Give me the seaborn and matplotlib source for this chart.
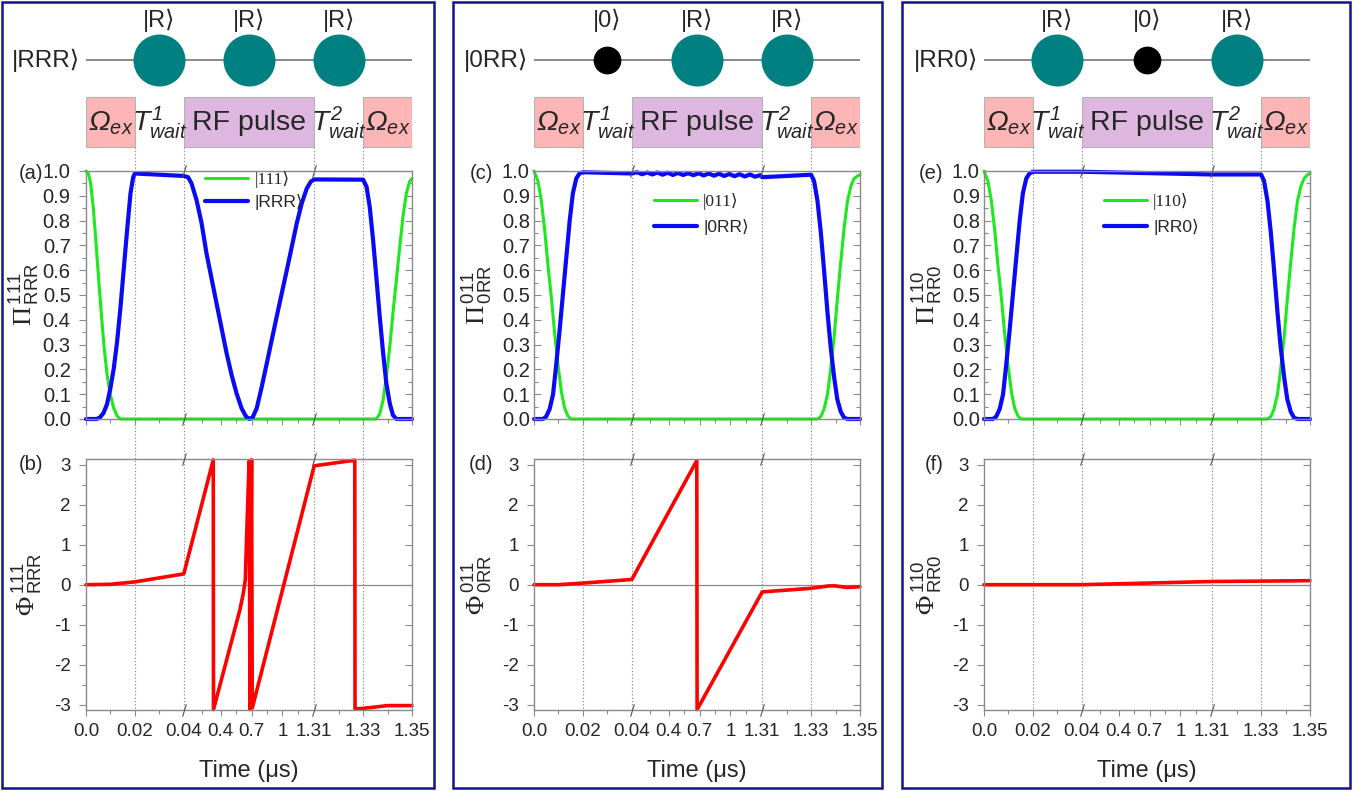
import numpy as np
import matplotlib
matplotlib.use("Agg")
import matplotlib.pyplot as plt
import matplotlib.transforms as mtrans
from matplotlib.patches import Rectangle
from matplotlib.ticker import FixedLocator, FixedFormatter, MultipleLocator, FuncFormatter
import seaborn as sns

# ---------------- axis definition (broken time axis, µs) ----------------
SEG_T = [0.0, 0.02, 0.04, 1.31, 1.33, 1.35]
SEG_FRAC = [0.0, 0.15, 0.30, 0.70, 0.85, 1.0]
X_TICKS = [0.0, 0.02, 0.04, 0.4, 0.7, 1.0, 1.31, 1.33, 1.35]
X_TICK_LABELS = ['0.0', '0.02', '0.04', '0.4', '0.7', '1', '1.31', '1.33', '1.35']
X_MINOR = [0.01, 0.03, 0.22, 0.55, 0.85, 1.155, 1.32, 1.34]
X_BREAKS = [0.04, 1.31]
GRID_T = [0.02, 0.04, 1.31, 1.33]

PULSE_LABELS = [r'$\mathbf{\Omega}_{ex}$', r'$T^{\mathbf{1}}_{wait}$', 'RF pulse',
                r'$T^{\mathbf{2}}_{wait}$', r'$\mathbf{\Omega}_{ex}$']
PULSE_START = [0.0, 0.02, 0.04, 1.31, 1.33]
PULSE_END = [0.02, 0.04, 1.31, 1.33, 1.35]
PULSE_FILL = ['#FDB5B5', None, '#DDB7DF', None, '#FDB5B5']

STATE_LABELS = ['|RRR⟩', '|0RR⟩', '|RR0⟩']
ATOM_LABELS = [['|R⟩', '|R⟩', '|R⟩'], ['|0⟩', '|R⟩', '|R⟩'], ['|R⟩', '|0⟩', '|R⟩']]
LEGEND_LABELS = [['|111⟩', '|RRR⟩'], ['|011⟩', '|0RR⟩'], ['|110⟩', '|RR0⟩']]
POP_YLABELS = [r'$\mathcal{\Pi}^{\,\mathrm{111}}_{\,\mathrm{RRR}}$',
               r'$\mathcal{\Pi}^{\,\mathrm{011}}_{\,\mathrm{0RR}}$',
               r'$\mathcal{\Pi}^{\,\mathrm{110}}_{\,\mathrm{RR0}}$']
PHASE_YLABELS = [r'$\mathcal{\Phi}^{\,\mathrm{111}}_{\,\mathrm{RRR}}$',
                 r'$\mathcal{\Phi}^{\,\mathrm{011}}_{\,\mathrm{0RR}}$',
                 r'$\mathcal{\Phi}^{\,\mathrm{110}}_{\,\mathrm{RR0}}$']
PANEL_LETTERS = [('(a)', '(b)'), ('(c)', '(d)'), ('(e)', '(f)')]

# ---------------- panel (a)/(b): |RRR> ----------------
A_T_GREEN = [0.0, 0.001, 0.0019, 0.003, 0.0041, 0.0052, 0.0063, 0.0074, 0.0086, 0.0099,
             0.0113, 0.0127, 0.0141, 0.02, 0.04, 1.31, 1.33, 1.3354, 1.3368, 1.3382,
             1.3395, 1.3409, 1.3422, 1.3436, 1.345, 1.3463, 1.3477, 1.349, 1.35]
A_GREEN = [1.0, 0.99, 0.95, 0.85, 0.71, 0.56, 0.42, 0.29, 0.18, 0.10,
           0.045, 0.012, 0.0, 0.0, 0.0, 0.0, 0.0, 0.0, 0.02, 0.077,
           0.17, 0.29, 0.426, 0.56, 0.695, 0.816, 0.91, 0.957, 0.97]
A_T_BLUE = [0.0, 0.0044, 0.0058, 0.0072, 0.0086, 0.0099, 0.0113, 0.0127, 0.0141, 0.0154,
            0.0168, 0.0182, 0.0193, 0.02, 0.04, 0.082, 0.115, 0.164, 0.213, 0.261,
            0.31, 0.359, 0.408, 0.457, 0.506, 0.554, 0.603, 0.646, 0.678, 0.711,
            0.75, 0.799, 0.848, 0.896, 0.945, 0.994, 1.043, 1.092, 1.14, 1.189,
            1.238, 1.277, 1.31, 1.33, 1.3314, 1.3327, 1.3341, 1.3354, 1.3368, 1.3382,
            1.3395, 1.3409, 1.3422, 1.3436, 1.35]
A_BLUE = [0.0, 0.0, 0.007, 0.025, 0.06, 0.12, 0.2, 0.31, 0.45, 0.6,
          0.76, 0.91, 0.975, 0.99, 0.98, 0.975, 0.95, 0.883, 0.79, 0.668,
          0.567, 0.466, 0.366, 0.265, 0.177, 0.103, 0.043, 0.01, 0.0, 0.007,
          0.043, 0.13, 0.224, 0.318, 0.413, 0.507, 0.6, 0.695, 0.789, 0.87,
          0.93, 0.957, 0.966, 0.965, 0.937, 0.856, 0.72, 0.574, 0.413, 0.265,
          0.144, 0.063, 0.016, 0.0, 0.0]
A_T_PHASE = [0.0, 0.01, 0.02, 0.04, 0.327, 0.329, 0.587, 0.62, 0.639, 0.652, 0.668,
             0.678, 0.684, 0.700, 0.707, 1.31, 1.3266, 1.3267, 1.33, 1.34, 1.35]
A_PHASE = [0.0, 0.01, 0.07, 0.27, 3.12, -3.12, -0.62, -0.21, 0.12, 1.2, 2.46,
           3.1, -3.12, 3.12, -3.08, 2.97, 3.11, -3.1, -3.09, -3.02, -3.02]

# ---------------- panel (c)/(d): |0RR> ----------------
C_T_GREEN = [0.0, 0.0016, 0.003, 0.0044, 0.0057, 0.0071, 0.0084, 0.0098, 0.0112, 0.0125,
             0.0139, 0.0152, 0.02, 0.04, 1.31, 1.33, 1.3326, 1.334, 1.3353, 1.3367,
             1.338, 1.3394, 1.3407, 1.3421, 1.3435, 1.3449, 1.3463, 1.3476, 1.349, 1.35]
C_GREEN = [1.0, 0.96, 0.88, 0.76, 0.62, 0.49, 0.35, 0.22, 0.11, 0.045,
           0.012, 0.0, 0.0, 0.0, 0.0, 0.0, 0.0, 0.01, 0.04, 0.1,
           0.2, 0.33, 0.48, 0.63, 0.77, 0.88, 0.94, 0.97, 0.98, 0.985]
C_T_BLUE = [0.0, 0.0037, 0.005, 0.0064, 0.0078, 0.0091, 0.0105, 0.0118, 0.0132, 0.0146,
            0.0159, 0.0173, 0.0186, 0.02, 0.04,
            0.09, 0.14, 0.19, 0.24, 0.29, 0.34, 0.39, 0.44, 0.49, 0.54, 0.59, 0.64, 0.69,
            0.74, 0.79, 0.84, 0.89, 0.94, 0.99, 1.04, 1.09, 1.14, 1.19, 1.24, 1.29, 1.31,
            1.33, 1.3312, 1.3326, 1.334, 1.3353, 1.3367, 1.338, 1.3394, 1.3407, 1.3421,
            1.3435, 1.3449, 1.35]
C_BLUE = [0.0, 0.0, 0.01, 0.04, 0.1, 0.22, 0.36, 0.5, 0.65, 0.8,
          0.91, 0.97, 0.99, 0.995, 0.99,
          0.995, 0.987, 0.994, 0.986, 0.994, 0.985, 0.993, 0.984, 0.992, 0.984, 0.991, 0.983,
          0.991, 0.982, 0.990, 0.981, 0.989, 0.980, 0.988, 0.979, 0.987, 0.978, 0.986, 0.977,
          0.983, 0.975,
          0.985, 0.96, 0.88, 0.75, 0.6, 0.43, 0.29, 0.17, 0.08, 0.03,
          0.005, 0.0, 0.0]
C_T_PHASE = [0.0, 0.01, 0.02, 0.04, 0.673, 0.676, 1.31, 1.33, 1.3373, 1.34, 1.3448, 1.35]
C_PHASE = [0.0, 0.0, 0.04, 0.13, 3.1, -3.12, -0.18, -0.09, -0.03, -0.03, -0.07, -0.05]

# ---------------- panel (e)/(f): |RR0> ----------------
E_T_GREEN = [0.0, 0.0016, 0.003, 0.0044, 0.0057, 0.0071, 0.0084, 0.0098, 0.0112, 0.0125,
             0.0139, 0.0152, 0.02, 0.04, 1.31, 1.33, 1.3326, 1.334, 1.3353, 1.3367,
             1.338, 1.3394, 1.3407, 1.3421, 1.3435, 1.3449, 1.3463, 1.3476, 1.349, 1.35]
E_GREEN = [1.0, 0.96, 0.88, 0.76, 0.62, 0.49, 0.35, 0.22, 0.11, 0.045,
           0.012, 0.0, 0.0, 0.0, 0.0, 0.0, 0.0, 0.01, 0.04, 0.1,
           0.2, 0.33, 0.48, 0.63, 0.77, 0.88, 0.94, 0.97, 0.985, 0.99]
E_T_BLUE = [0.0, 0.0037, 0.005, 0.0064, 0.0078, 0.0091, 0.0105, 0.0118, 0.0132, 0.0146,
            0.0159, 0.0173, 0.0186, 0.02, 0.04, 1.31, 1.33, 1.3312, 1.3326, 1.334,
            1.3353, 1.3367, 1.338, 1.3394, 1.3407, 1.3421, 1.3435, 1.3449, 1.35]
E_BLUE = [0.0, 0.0, 0.01, 0.04, 0.1, 0.22, 0.36, 0.5, 0.65, 0.8,
          0.91, 0.97, 0.99, 0.997, 0.997, 0.986, 0.986, 0.96, 0.88, 0.75,
          0.6, 0.43, 0.29, 0.17, 0.08, 0.03, 0.005, 0.0, 0.0]
E_T_PHASE = [0.0, 0.02, 0.04, 1.31, 1.33, 1.35]
E_PHASE = [0.0, 0.0, 0.0, 0.08, 0.09, 0.1]

POP_T_GREEN = [A_T_GREEN, C_T_GREEN, E_T_GREEN]
POP_GREEN = [A_GREEN, C_GREEN, E_GREEN]
POP_T_BLUE = [A_T_BLUE, C_T_BLUE, E_T_BLUE]
POP_BLUE = [A_BLUE, C_BLUE, E_BLUE]
PH_T = [A_T_PHASE, C_T_PHASE, E_T_PHASE]
PH_V = [A_PHASE, C_PHASE, E_PHASE]

# ---------------- style ----------------
GREEN, BLUE, RED, TEAL = '#1ee81e', '#0a0af5', '#ff0000', '#008080'
SPINE = '#8a8a8a'
NAVY = '#14148c'

sns.set_style('ticks')
plt.rcParams['font.family'] = ['Liberation Sans', 'DejaVu Sans']
plt.rcParams['mathtext.fontset'] = 'custom'
plt.rcParams['mathtext.rm'] = 'Liberation Sans'
plt.rcParams['mathtext.it'] = 'Liberation Sans:italic'
plt.rcParams['mathtext.bf'] = 'Liberation Sans:italic'
plt.rcParams['mathtext.cal'] = 'Liberation Serif'
plt.rcParams['mathtext.sf'] = 'Liberation Sans'
plt.rcParams['axes.unicode_minus'] = False

W, H = 1359, 791
AX_LEFT = [86, 534, 984]
AX_W = 326
POP_TOP, POP_BOT = 171, 419
PH_TOP, PH_BOT = 459, 710
BOX_TOP, BOX_BOT = 97, 147
ATOM_Y, ATOM_LABEL_Y = 60, 20
FRAMES = [(2, 434), (453, 882), (902, 1350)]
FRAME_TOP, FRAME_BOT = 2, 788
LEFT_DIR = ['out', 'in', 'in']
LETTER_X = [-0.13, -0.125, -0.125]
POP_YLAB_X = [-0.135, -0.119, -0.119]
PH_YLAB_X = [-0.125, -0.119, -0.119]
LEG_ANCHOR = [(0.365, 0.998), (0.367, 0.91), (0.367, 0.91)]
LEG_SPACING = [0.3, 0.5, 0.5]
POP_YTICK_SIZE = 14.5
PH_YTICK_SIZE = 13.5


def fwd(t):
    return np.interp(t, SEG_T, SEG_FRAC)


def inv(u):
    return np.interp(u, SEG_FRAC, SEG_T)


fig = plt.figure(figsize=(W / 100, H / 100), dpi=100)


def pix_axes(x0, top, bot, w=AX_W):
    return fig.add_axes([x0 / W, 1 - bot / H, w / W, (bot - top) / H])


def style_axes(ax, left_dir, ymaj, ymin, yfmt, ylim, showx, ysize):
    ax.set_xscale('function', functions=(fwd, inv))
    ax.set_xlim(0, 1.35)
    ax.set_ylim(*ylim)
    ax.xaxis.set_major_locator(FixedLocator(X_TICKS))
    ax.xaxis.set_major_formatter(FixedFormatter(X_TICK_LABELS))
    ax.xaxis.set_minor_locator(FixedLocator(X_MINOR))
    ax.yaxis.set_major_locator(MultipleLocator(ymaj))
    ax.yaxis.set_minor_locator(MultipleLocator(ymin))
    ax.yaxis.set_major_formatter(FuncFormatter(yfmt))
    for sp in ax.spines.values():
        sp.set_color(SPINE)
        sp.set_linewidth(1.0)
    ax.tick_params(axis='x', which='both', direction='out', top=False, bottom=True,
                   color=SPINE, width=0.8, labelbottom=showx, labelsize=13.5, pad=5)
    ax.tick_params(axis='x', which='major', length=4.5)
    ax.tick_params(axis='x', which='minor', length=3)
    ax.tick_params(axis='y', which='both', direction=left_dir, left=True, right=False,
                   color=SPINE, width=0.8, labelsize=ysize,
                   pad=(6 if left_dir == 'out' else 3))
    ax.tick_params(axis='y', which='major', length=5)
    ax.tick_params(axis='y', which='minor', length=3)
    sec = ax.secondary_yaxis('right')
    sec.yaxis.set_major_locator(MultipleLocator(ymaj))
    sec.yaxis.set_minor_locator(MultipleLocator(ymin))
    sec.tick_params(axis='y', which='both', direction='in', color=SPINE, width=0.8,
                    labelright=False)
    sec.tick_params(axis='y', which='major', length=5)
    sec.tick_params(axis='y', which='minor', length=3)
    sec.spines['right'].set_visible(False)
    for k, tk in enumerate(ax.xaxis.get_major_ticks()):
        if X_TICKS[k] in X_BREAKS:
            tk.tick1line.set_visible(False)
    bt = mtrans.blended_transform_factory(ax.transData, ax.transAxes)
    for yy in (0, 1):
        ax.plot(X_BREAKS, [yy] * len(X_BREAKS), transform=bt, ls='none',
                marker=[(-0.3, -1), (0.3, 1)], ms=9, mec='#555555', mew=0.8,
                clip_on=False, zorder=5)


for i in range(3):
    x0 = AX_LEFT[i]

    # frame around each panel
    fl, fr = FRAMES[i]
    fig.add_artist(Rectangle((fl / W, 1 - FRAME_BOT / H), (fr - fl) / W,
                             (FRAME_BOT - FRAME_TOP) / H, transform=fig.transFigure,
                             fill=False, edgecolor=NAVY, linewidth=1.8))

    # overlay: atoms, pulse sequence and dotted guides
    ov = pix_axes(x0, 0, PH_BOT)
    ov.set_zorder(0)
    ov.set_xscale('function', functions=(fwd, inv))
    ov.set_xlim(0, 1.35)
    ov.set_ylim(PH_BOT, 0)
    ov.axis('off')
    ov.vlines(GRID_T, BOX_BOT, PH_BOT, colors='#8c8c8c', linestyles=(0, (1.2, 1.8)),
              linewidth=0.8)
    mids = []
    for lab, s, e, fc in zip(PULSE_LABELS, PULSE_START, PULSE_END, PULSE_FILL):
        if fc:
            ov.add_patch(Rectangle((s, BOX_TOP), e - s, BOX_BOT - BOX_TOP, facecolor=fc,
                                   edgecolor='#b4b4b4', linewidth=0.8))
        mid = float(inv((fwd(s) + fwd(e)) / 2))
        mids.append(mid)
        ov.text(mid, (BOX_TOP + BOX_BOT) / 2 + 1, lab, ha='center', va='center', fontsize=20.5)

    ov.plot([0, 1.35], [ATOM_Y, ATOM_Y], color='#7f7f7f', lw=1.3, zorder=1)
    atom_t = mids[1:4]
    for t, lab in zip(atom_t, ATOM_LABELS[i]):
        is_r = 'R' in lab
        ov.scatter([t], [ATOM_Y], s=(1400 if is_r else 400), c=(TEAL if is_r else 'black'),
                   linewidths=0, zorder=3, clip_on=False)
        ov.text(t, ATOM_LABEL_Y, lab, ha='center', va='center', fontsize=17)
    ov.text(-0.018, ATOM_Y, STATE_LABELS[i],
            transform=mtrans.blended_transform_factory(ov.transAxes, ov.transData),
            ha='right', va='center', fontsize=17.5)

    # population panel
    ax = pix_axes(x0, POP_TOP, POP_BOT)
    ax.set_zorder(1)
    ax.patch.set_alpha(0)
    sns.lineplot(x=POP_T_GREEN[i], y=POP_GREEN[i], ax=ax, color=GREEN, linewidth=2.2,
                 label=LEGEND_LABELS[i][0], estimator=None, sort=False, clip_on=False)
    sns.lineplot(x=POP_T_BLUE[i], y=POP_BLUE[i], ax=ax, color=BLUE, linewidth=3.0,
                 label=LEGEND_LABELS[i][1], estimator=None, sort=False, clip_on=False)
    style_axes(ax, LEFT_DIR[i], 0.1, 0.05, lambda v, p: f'{v:.1f}', (0, 1), False,
               POP_YTICK_SIZE)
    h, l = ax.get_legend_handles_labels()
    leg = ax.legend(h, l, loc='upper left', bbox_to_anchor=LEG_ANCHOR[i], frameon=False,
                    fontsize=12.5, handlelength=2.5, handletextpad=0.35,
                    labelspacing=LEG_SPACING[i], borderpad=0, borderaxespad=0)
    leg.get_texts()[0].set_fontfamily(['Liberation Serif', 'DejaVu Serif'])
    ax.set_xlabel('')
    ax.set_ylabel(POP_YLABELS[i], fontsize=19)
    ax.yaxis.set_label_coords(POP_YLAB_X[i], 0.5)
    ax.text(LETTER_X[i], 0.99, PANEL_LETTERS[i][0], transform=ax.transAxes,
            ha='right', va='center', fontsize=14.5)

    # phase panel
    axp = pix_axes(x0, PH_TOP, PH_BOT)
    axp.set_zorder(1)
    axp.patch.set_alpha(0)
    axp.axhline(0, color=SPINE, lw=0.9, zorder=0)
    sns.lineplot(x=PH_T[i], y=PH_V[i], ax=axp, color=RED, linewidth=2.6,
                 estimator=None, sort=False, clip_on=False)
    style_axes(axp, 'out', 1, 0.5, lambda v, p: f'{int(round(v)):d}', (-3.13, 3.14), True,
               PH_YTICK_SIZE)
    axp.set_xlabel('Time (μs)', fontsize=17, labelpad=14)
    axp.set_ylabel(PHASE_YLABELS[i], fontsize=19)
    axp.yaxis.set_label_coords(PH_YLAB_X[i], 0.5)
    axp.text(LETTER_X[i], 0.98, PANEL_LETTERS[i][1], transform=axp.transAxes,
             ha='right', va='center', fontsize=14.5)

fig.savefig('out.png', dpi=100)
